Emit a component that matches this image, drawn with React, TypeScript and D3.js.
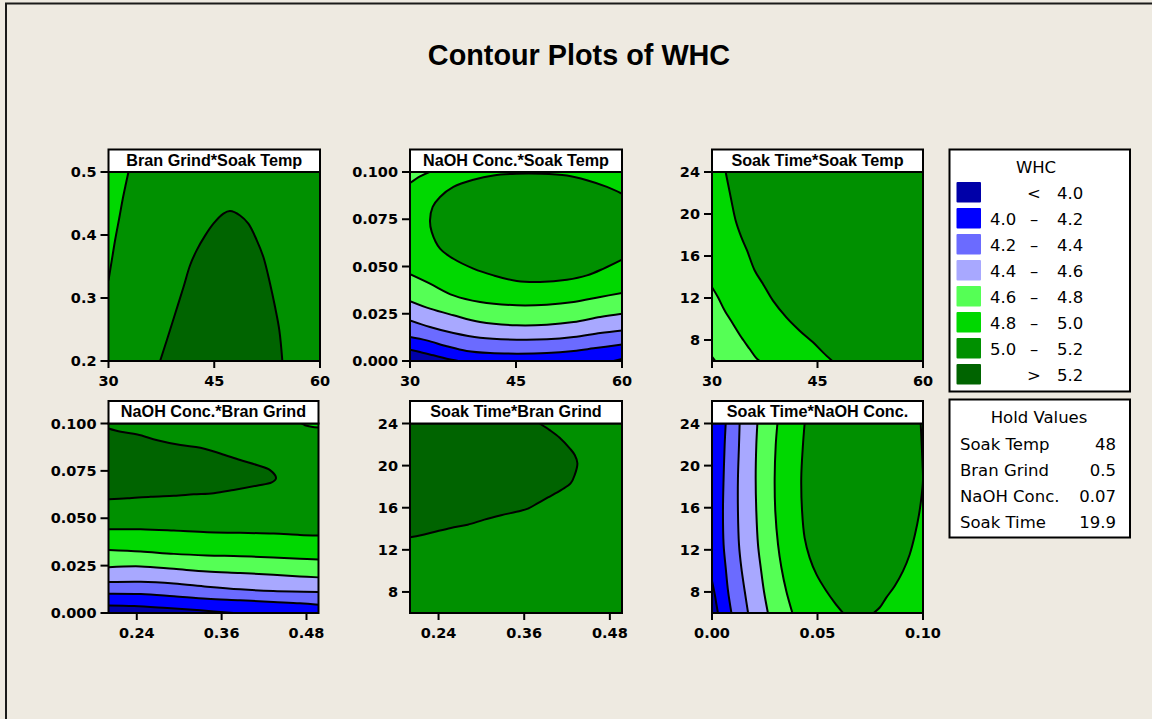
import React from "react";
import * as d3 from "d3";

type Pt = [number, number];

// WHC bands, lowest to highest
const BAND_COLORS = ["#0000A8", "#0000FF", "#6B6BFF", "#A8A8FF", "#55FF55", "#00D800", "#009000", "#006400"];
const BAND_LABELS: [string, string, string][] = [
  ["", "<", "4.0"],
  ["4.0", "–", "4.2"],
  ["4.2", "–", "4.4"],
  ["4.4", "–", "4.6"],
  ["4.6", "–", "4.8"],
  ["4.8", "–", "5.0"],
  ["5.0", "–", "5.2"],
  ["", ">", "5.2"],
];

const HOLD_NAMES = ["Soak Temp", "Bran Grind", "NaOH Conc.", "Soak Time"];
const HOLD_VALUES = ["48", "0.5", "0.07", "19.9"];

// Axis ticks
const TEMP_TICKS = [30, 45, 60];
const GRIND_TICKS = [0.24, 0.36, 0.48];
const NAOH_X_TICKS = [0, 0.05, 0.1];
const GRIND_Y_TICKS = [0.2, 0.3, 0.4, 0.5];
const NAOH_Y_TICKS = [0, 0.025, 0.05, 0.075, 0.1];
const TIME_TICKS = [8, 12, 16, 20, 24];

// Factor ranges
const TEMP_RANGE: Pt = [30, 60];
const GRIND_RANGE: Pt = [0.2, 0.497];
const NAOH_RANGE: Pt = [0, 0.1];
const TIME_RANGE: Pt = [6, 24];

// Bran Grind * Soak Temp contour lines
const grindTemp50: Pt[] = [[30, 0.328], [30.47, 0.36], [30.94, 0.392], [31.56, 0.429], [32.03, 0.458], [32.46, 0.481], [32.83, 0.5]];
const grindTemp52: Pt[] = [[37.32, 0.2], [38.27, 0.233], [39.45, 0.275], [40.63, 0.317], [41.57, 0.352], [42.52, 0.376], [43.7, 0.399], [44.88, 0.418], [46.3, 0.434], [47.24, 0.438], [48.66, 0.431], [49.84, 0.418], [51.02, 0.392], [51.97, 0.365], [52.91, 0.323], [53.62, 0.286], [54.23, 0.249], [54.66, 0.2]];

// NaOH Conc. * Soak Temp contour lines
const naohTemp40a: Pt[] = [[30, 0.006], [31.42, 0.0048], [33.31, 0.003], [35.2, 0.0012], [36.85, 0]];
const naohTemp40b: Pt[] = [[58.82, 0], [60, 0.0011]];
const naohTemp42: Pt[] = [[30, 0.0127], [32.36, 0.0109], [35.2, 0.0078], [38.03, 0.0053], [41.34, 0.0042], [45.12, 0.0039], [49.37, 0.0042], [53.15, 0.0053], [55.98, 0.0067], [60, 0.0088]];
const naohTemp44: Pt[] = [[30, 0.0215], [32.83, 0.018], [36.14, 0.0148], [39.92, 0.0123], [45.12, 0.0113], [49.37, 0.0115], [53.15, 0.0127], [56.92, 0.0148], [60, 0.0162]];
const naohTemp46: Pt[] = [[30, 0.0317], [32.83, 0.0277], [36.14, 0.0242], [39.92, 0.0206], [45.12, 0.0189], [49.37, 0.0192], [53.15, 0.0206], [56.92, 0.0233], [60, 0.025]];
const naohTemp48: Pt[] = [[30, 0.0459], [32.83, 0.0409], [36.14, 0.0347], [39.92, 0.0312], [45.12, 0.0295], [49.37, 0.0298], [53.15, 0.0312], [56.92, 0.0339], [60, 0.036]];
const naohTemp48b: Pt[] = [[30, 0.0942], [31.42, 0.0977], [32.74, 0.1]];
const naohTemp50: Pt[] = [[60, 0.0885], [57.87, 0.0921], [55.04, 0.0956], [52.2, 0.0981], [48.42, 0.0991], [45.12, 0.0991], [41.81, 0.0982], [38.97, 0.0959], [36.14, 0.0921], [34.25, 0.0868], [33.21, 0.0815], [32.83, 0.0744], [33.07, 0.0683], [34.25, 0.0594], [36.14, 0.0541], [38.97, 0.0489], [41.81, 0.0453], [45.12, 0.0423], [48.42, 0.0418], [52.2, 0.043], [55.04, 0.0453], [57.4, 0.0489], [60, 0.0536]];

// Soak Time * Soak Temp contour lines
const timeTemp46: Pt[] = [[30, 6.41], [30.47, 6]];
const timeTemp48: Pt[] = [[30, 13.03], [30.85, 12.07], [31.8, 10.8], [32.99, 9.53], [34.17, 8.26], [35.36, 7.14], [36.21, 6.35], [36.78, 6]];
const timeTemp50: Pt[] = [[31.94, 24], [32.27, 22.89], [32.75, 21.3], [33.36, 19.39], [34.17, 17.8], [34.98, 16.53], [36.07, 14.62], [37.25, 13.34], [38.67, 11.75], [40.57, 10.16], [42.46, 8.89], [44.36, 7.78], [45.78, 6.82], [47.11, 6]];

// NaOH Conc. * Bran Grind contour lines
const naohGrind40: Pt[] = [[0.2, 0.004], [0.2362, 0.0037], [0.2831, 0.0026], [0.33, 0.0014], [0.3769, 0]];
const naohGrind42: Pt[] = [[0.2, 0.0102], [0.2456, 0.01], [0.2925, 0.0088], [0.3394, 0.0075], [0.3863, 0.0067], [0.4332, 0.0058], [0.4707, 0.0051], [0.497, 0.0044]];
const naohGrind44: Pt[] = [[0.2, 0.0163], [0.2456, 0.0165], [0.2925, 0.0156], [0.3394, 0.0139], [0.3863, 0.0125], [0.4332, 0.0116], [0.497, 0.0111]];
const naohGrind46: Pt[] = [[0.2, 0.0242], [0.2456, 0.0246], [0.2925, 0.0233], [0.3394, 0.0219], [0.3863, 0.0211], [0.4332, 0.0202], [0.4707, 0.0193], [0.497, 0.0188]];
const naohGrind48: Pt[] = [[0.2, 0.0333], [0.2456, 0.0325], [0.2925, 0.0312], [0.3394, 0.0304], [0.3863, 0.03], [0.4332, 0.0293], [0.4707, 0.0286], [0.497, 0.0282]];
const naohGrind50: Pt[] = [[0.2, 0.0442], [0.2456, 0.0442], [0.2925, 0.0435], [0.3394, 0.0426], [0.3863, 0.0423], [0.4332, 0.0419], [0.4707, 0.0412], [0.497, 0.0409]];
const naohGrind50b: Pt[] = [[0.473, 0.1], [0.478, 0.0991], [0.487, 0.0983], [0.497, 0.0979]];
const naohGrind52: Pt[] = [[0.2, 0.0974], [0.2175, 0.0956], [0.2409, 0.0942], [0.2691, 0.0912], [0.3019, 0.0886], [0.33, 0.0872], [0.3581, 0.0842], [0.3863, 0.0807], [0.4097, 0.0781], [0.4285, 0.0754], [0.4369, 0.0711], [0.4308, 0.0689], [0.4097, 0.0672], [0.3769, 0.0649], [0.3488, 0.0632], [0.3206, 0.0626], [0.2925, 0.0619], [0.2597, 0.0614], [0.2269, 0.0605], [0.2, 0.06]];

// Soak Time * Bran Grind contour line
const timeGrind52: Pt[] = [[0.2, 13.2], [0.2152, 13.39], [0.2339, 13.7], [0.2573, 14.08], [0.2808, 14.39], [0.3042, 14.87], [0.3277, 15.28], [0.3511, 15.65], [0.3652, 15.91], [0.3792, 16.44], [0.3933, 16.98], [0.4121, 17.7], [0.4252, 18.33], [0.4308, 19.12], [0.4345, 20.22], [0.4308, 21.01], [0.4238, 21.64], [0.4097, 22.65], [0.3957, 23.37], [0.3816, 24]];

// Soak Time * NaOH Conc. contour lines
const timeNaoh40: Pt[] = [[0, 9.04], [0.0013, 7.78], [0.0021, 6.83], [0.0028, 6]];
const timeNaoh42: Pt[] = [[0.0065, 24], [0.006, 21.95], [0.0055, 18.8], [0.0052, 15.65], [0.0055, 12.5], [0.0065, 10.3], [0.0076, 8.09], [0.0092, 6]];
const timeNaoh44: Pt[] = [[0.0131, 24], [0.0128, 21.95], [0.0123, 18.8], [0.0123, 15.65], [0.0128, 12.5], [0.0139, 10.3], [0.0155, 8.09], [0.0171, 6]];
const timeNaoh46: Pt[] = [[0.0215, 24], [0.021, 21.95], [0.0207, 18.8], [0.021, 15.65], [0.0218, 12.5], [0.0231, 10.3], [0.0246, 8.09], [0.0265, 6]];
const timeNaoh48: Pt[] = [[0.031, 24], [0.0302, 21.95], [0.0297, 18.8], [0.03, 15.65], [0.0313, 12.5], [0.0329, 10.3], [0.0352, 8.09], [0.0381, 6]];
const timeNaoh50: Pt[] = [[0.0439, 24], [0.0431, 21.95], [0.0423, 18.8], [0.0427, 15.65], [0.0439, 13.13], [0.0463, 11.24], [0.0495, 9.67], [0.0542, 8.09], [0.0581, 6.99], [0.0621, 6]];
const timeNaoh50b: Pt[] = [[0.0989, 24], [0.0994, 21.95], [0.0998, 20.06], [0.1, 18.65], [0.0994, 17.23], [0.0981, 15.34], [0.0962, 13.45], [0.0937, 11.56], [0.0905, 9.98], [0.0866, 8.57], [0.0826, 7.46], [0.0795, 6.52], [0.0766, 6]];

interface Contour {
  pts: Pt[];
  close: Pt[]; // border corners that close the filled side
  band: number; // colour of the filled side
}

interface Panel {
  title: string;
  left: number;
  top: number;
  width: number;
  height: number;
  xDomain: Pt;
  yDomain: Pt;
  xTicks: number[];
  yTicks: number[];
  xFmt: string;
  yFmt: string;
  base: number;
  contours: Contour[];
}

const [t0, t1] = TEMP_RANGE;
const [g0, g1] = GRIND_RANGE;
const [n0, n1] = NAOH_RANGE;
const [s0, s1] = TIME_RANGE;

const PANELS: Panel[] = [
  {
    title: "Bran Grind*Soak Temp",
    left: 108.5, top: 172, width: 211.5, height: 189,
    xDomain: TEMP_RANGE, yDomain: [0.2, 0.5],
    xTicks: TEMP_TICKS, yTicks: GRIND_Y_TICKS, xFmt: "d", yFmt: ".1f",
    base: 5,
    contours: [
      { pts: grindTemp50, close: [[t1, 0.5], [t1, 0.2], [t0, 0.2]], band: 6 },
      { pts: grindTemp52, close: [], band: 7 },
    ],
  },
  {
    title: "NaOH Conc.*Soak Temp",
    left: 410, top: 172, width: 212, height: 189,
    xDomain: TEMP_RANGE, yDomain: NAOH_RANGE,
    xTicks: TEMP_TICKS, yTicks: NAOH_Y_TICKS, xFmt: "d", yFmt: ".3f",
    base: 0,
    contours: [
      { pts: naohTemp40a, close: [[t1, n0], [t1, n1], [t0, n1]], band: 1 },
      { pts: naohTemp42, close: [[t1, n1], [t0, n1]], band: 2 },
      { pts: naohTemp44, close: [[t1, n1], [t0, n1]], band: 3 },
      { pts: naohTemp46, close: [[t1, n1], [t0, n1]], band: 4 },
      { pts: naohTemp48, close: [[t1, n1], [t0, n1]], band: 5 },
      { pts: naohTemp48b, close: [[t0, n1]], band: 4 },
      { pts: naohTemp50, close: [], band: 6 },
      { pts: naohTemp40b, close: [[t1, n0]], band: 0 },
    ],
  },
  {
    title: "Soak Time*Soak Temp",
    left: 712, top: 172, width: 211, height: 189,
    xDomain: TEMP_RANGE, yDomain: TIME_RANGE,
    xTicks: TEMP_TICKS, yTicks: TIME_TICKS, xFmt: "d", yFmt: "d",
    base: 4,
    contours: [
      { pts: timeTemp48, close: [[t1, s0], [t1, s1], [t0, s1]], band: 5 },
      { pts: timeTemp50, close: [[t1, s0], [t1, s1]], band: 6 },
      { pts: timeTemp46, close: [[t0, s0]], band: 3 },
    ],
  },
  {
    title: "NaOH Conc.*Bran Grind",
    left: 108.5, top: 423.5, width: 210, height: 189.5,
    xDomain: GRIND_RANGE, yDomain: NAOH_RANGE,
    xTicks: GRIND_TICKS, yTicks: NAOH_Y_TICKS, xFmt: ".2f", yFmt: ".3f",
    base: 0,
    contours: [
      { pts: naohGrind40, close: [[g1, n0], [g1, n1], [g0, n1]], band: 1 },
      { pts: naohGrind42, close: [[g1, n1], [g0, n1]], band: 2 },
      { pts: naohGrind44, close: [[g1, n1], [g0, n1]], band: 3 },
      { pts: naohGrind46, close: [[g1, n1], [g0, n1]], band: 4 },
      { pts: naohGrind48, close: [[g1, n1], [g0, n1]], band: 5 },
      { pts: naohGrind50, close: [[g1, n1], [g0, n1]], band: 6 },
      { pts: naohGrind52, close: [], band: 7 },
      { pts: naohGrind50b, close: [[g1, n1]], band: 5 },
    ],
  },
  {
    title: "Soak Time*Bran Grind",
    left: 410, top: 423.5, width: 212, height: 189.5,
    xDomain: GRIND_RANGE, yDomain: TIME_RANGE,
    xTicks: GRIND_TICKS, yTicks: TIME_TICKS, xFmt: ".2f", yFmt: "d",
    base: 6,
    contours: [{ pts: timeGrind52, close: [[g0, s1]], band: 7 }],
  },
  {
    title: "Soak Time*NaOH Conc.",
    left: 712, top: 423.5, width: 211, height: 189.5,
    xDomain: NAOH_RANGE, yDomain: TIME_RANGE,
    xTicks: NAOH_X_TICKS, yTicks: TIME_TICKS, xFmt: ".2f", yFmt: "d",
    base: 0,
    contours: [
      { pts: timeNaoh40, close: [[n1, s0], [n1, s1], [n0, s1]], band: 1 },
      { pts: timeNaoh42, close: [[n1, s0], [n1, s1]], band: 2 },
      { pts: timeNaoh44, close: [[n1, s0], [n1, s1]], band: 3 },
      { pts: timeNaoh46, close: [[n1, s0], [n1, s1]], band: 4 },
      { pts: timeNaoh48, close: [[n1, s0], [n1, s1]], band: 5 },
      { pts: timeNaoh50, close: [[n1, s0], [n1, s1]], band: 6 },
      { pts: timeNaoh50b, close: [[n1, s0], [n1, s1]], band: 5 },
    ],
  },
];

const BG = "#EEEAE1";
const TICK_FONT = "'DejaVu Sans', Verdana, sans-serif";
const TITLE_FONT = "'Liberation Sans', Arial, sans-serif";

function ContourPanel({ p, idx }: { p: Panel; idx: number }) {
  const x = d3.scaleLinear().domain(p.xDomain).range([p.left, p.left + p.width]);
  const y = d3.scaleLinear().domain(p.yDomain).range([p.top + p.height, p.top]);
  const line = d3
    .line<Pt>()
    .x((d) => x(d[0]))
    .y((d) => y(d[1]))
    .curve(d3.curveCatmullRom.alpha(0.5));
  const fillPath = (c: Contour) =>
    (line(c.pts) || "") + c.close.map((q) => `L${x(q[0])},${y(q[1])}`).join("") + "Z";
  const xf = d3.format(p.xFmt);
  const yf = d3.format(p.yFmt);
  const clipId = `panel-clip-${idx}`;
  const bottom = p.top + p.height;
  return (
    <g>
      <defs>
        <clipPath id={clipId}>
          <rect x={p.left} y={p.top} width={p.width} height={p.height} />
        </clipPath>
      </defs>
      <g clipPath={`url(#${clipId})`}>
        <rect x={p.left} y={p.top} width={p.width} height={p.height} fill={BAND_COLORS[p.base]} />
        {p.contours.map((c, i) => (
          <path key={`f${i}`} d={fillPath(c)} fill={BAND_COLORS[c.band]} stroke="none" />
        ))}
        {p.contours.map((c, i) => (
          <path key={`l${i}`} d={line(c.pts) || ""} fill="none" stroke="#000" strokeWidth={2} strokeLinejoin="round" />
        ))}
      </g>
      <rect x={p.left} y={p.top} width={p.width} height={p.height} fill="none" stroke="#000" strokeWidth={2} />
      {/* title strip */}
      <rect x={p.left} y={p.top - 22.5} width={p.width} height={22.5} fill="#fff" stroke="#000" strokeWidth={2} />
      <text
        x={p.left + p.width / 2}
        y={p.top - 6.5}
        textAnchor="middle"
        fontFamily={TITLE_FONT}
        fontWeight="bold"
        fontSize={16.2}
        fill="#000"
      >
        {p.title}
      </text>
      {/* y axis */}
      {p.yTicks.map((t) => (
        <g key={`y${t}`}>
          <line x1={p.left - 8} x2={p.left} y1={y(t)} y2={y(t)} stroke="#000" strokeWidth={2} />
          <text
            x={p.left - 12}
            y={y(t)}
            dy="0.36em"
            textAnchor="end"
            fontFamily={TICK_FONT}
            fontWeight="bold"
            fontSize={14.5}
            fill="#000"
          >
            {yf(t)}
          </text>
        </g>
      ))}
      {/* x axis */}
      {p.xTicks.map((t) => (
        <g key={`x${t}`}>
          <line x1={x(t)} x2={x(t)} y1={bottom} y2={bottom + 7} stroke="#000" strokeWidth={2} />
          <text
            x={x(t)}
            y={bottom + 25}
            textAnchor="middle"
            fontFamily={TICK_FONT}
            fontWeight="bold"
            fontSize={14.5}
            fill="#000"
          >
            {xf(t)}
          </text>
        </g>
      ))}
    </g>
  );
}

function Legend() {
  const lx = 949.5;
  const ly = 149.5;
  return (
    <g fontFamily={TICK_FONT} fontSize={16.5} fill="#000">
      <rect x={lx} y={ly} width={180.5} height={242} fill="#fff" stroke="#000" strokeWidth={2} />
      <text x={1036} y={173} textAnchor="middle">WHC</text>
      {BAND_LABELS.map((b, i) => {
        const top = 182 + 26 * i;
        return (
          <g key={i}>
            <rect x={956.5} y={top} width={24.5} height={20.5} rx={1} fill={BAND_COLORS[i]} />
            {b[0] && <text x={990} y={top + 17}>{b[0]}</text>}
            <text x={1034} y={top + 17} textAnchor="middle">{b[1]}</text>
            <text x={1057} y={top + 17}>{b[2]}</text>
          </g>
        );
      })}
    </g>
  );
}

function HoldValues() {
  return (
    <g fontFamily={TICK_FONT} fontSize={16.5} fill="#000">
      <rect x={949.5} y={399.5} width={180.5} height={138} fill="#fff" stroke="#000" strokeWidth={2} />
      <text x={1039} y={423} textAnchor="middle">Hold Values</text>
      {HOLD_NAMES.map((n, i) => (
        <g key={n}>
          <text x={960} y={449.5 + 26 * i}>{n}</text>
          <text x={1116} y={449.5 + 26 * i} textAnchor="end">{HOLD_VALUES[i]}</text>
        </g>
      ))}
    </g>
  );
}

export default function App() {
  return (
    <svg
      width={1152}
      height={719}
      viewBox="0 0 1152 719"
      style={{ position: "absolute", left: 0, top: 0, display: "block" }}
    >
      <rect x={0} y={0} width={1152} height={719} fill={BG} />
      <rect x={6} y={3.5} width={1160} height={730} fill="none" stroke="#1a1a1a" strokeWidth={2} />
      <text
        x={579}
        y={65}
        textAnchor="middle"
        fontFamily={TITLE_FONT}
        fontWeight="bold"
        fontSize={28.8}
        fill="#000"
      >
        Contour Plots of WHC
      </text>
      {PANELS.map((p, i) => (
        <ContourPanel key={p.title} p={p} idx={i} />
      ))}
      <Legend />
      <HoldValues />
    </svg>
  );
}
